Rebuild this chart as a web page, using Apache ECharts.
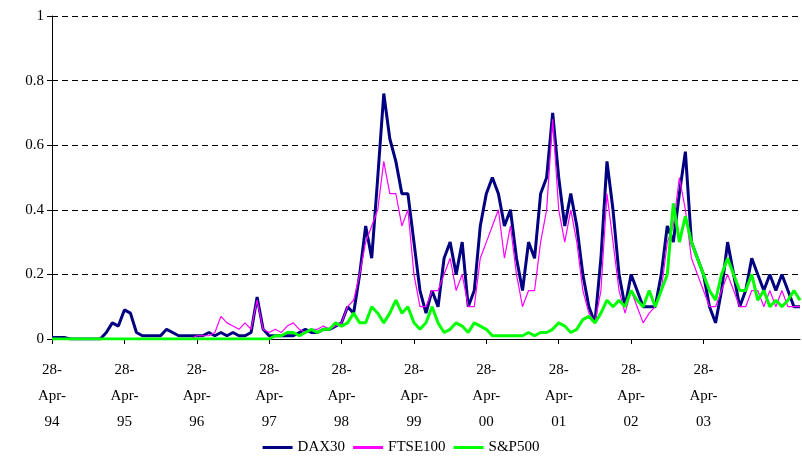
<!DOCTYPE html>
<html><head><meta charset="utf-8">
<script src="https://cdn.jsdelivr.net/npm/echarts@6/dist/echarts.min.js"></script>
<style>html,body{margin:0;background:#fff}#c{width:802px;height:457px}</style>
</head><body><div id="c"></div>
<script>
const yearLabels=['94','95','96','97','98','99','00','01','02','03'];
const dax=[0.005,0.005,0.005,0,0,0,0,0,0,0.02,0.05,0.04,0.09,0.08,0.02,0.01,0.01,0.01,0.01,0.03,0.02,0.01,0.01,0.01,
0.01,0.01,0.02,0.01,0.02,0.01,0.02,0.01,0.01,0.02,0.13,0.03,0.01,0.01,0.01,0.01,0.01,0.02,0.03,0.02,0.02,0.03,0.03,0.04,
0.05,0.1,0.08,0.2,0.35,0.25,0.5,0.76,0.62,0.55,0.45,0.45,0.3,0.15,0.08,0.15,0.1,0.25,0.3,0.2,0.3,0.1,0.15,0.35,
0.45,0.5,0.45,0.35,0.4,0.25,0.15,0.3,0.25,0.45,0.5,0.7,0.5,0.35,0.45,0.35,0.2,0.1,0.05,0.25,0.55,0.4,0.2,0.1,
0.2,0.15,0.1,0.1,0.1,0.2,0.35,0.3,0.45,0.58,0.3,0.25,0.2,0.1,0.05,0.15,0.3,0.2,0.1,0.15,0.25,0.2,0.15,0.2,0.15,0.2,0.15,0.1,0.1];
const ftse=[0,0,0,0,0,0,0,0,0,0,0,0,0,0,0,0,0,0,0,0,0,0,0,0,
0.01,0.01,0.01,0.02,0.07,0.05,0.04,0.03,0.05,0.03,0.12,0.03,0.02,0.03,0.02,0.04,0.05,0.03,0.02,0.03,0.03,0.04,0.03,0.04,
0.05,0.1,0.12,0.2,0.3,0.35,0.4,0.55,0.45,0.45,0.35,0.4,0.2,0.1,0.1,0.15,0.15,0.2,0.25,0.15,0.2,0.1,0.1,0.25,
0.3,0.35,0.4,0.25,0.35,0.2,0.1,0.15,0.15,0.3,0.4,0.68,0.4,0.3,0.4,0.3,0.15,0.08,0.05,0.15,0.45,0.3,0.15,0.08,
0.15,0.1,0.05,0.08,0.1,0.15,0.3,0.35,0.5,0.4,0.25,0.2,0.15,0.1,0.1,0.15,0.2,0.15,0.1,0.1,0.15,0.15,0.1,0.15,0.1,0.15,0.1,0.1,0.1];
const sp=[0,0,0,0,0,0,0,0,0,0,0,0,0,0,0,0,0,0,0,0,0,0,0,0,
0,0,0,0,0,0,0,0,0,0,0,0,0,0.01,0.01,0.02,0.02,0.01,0.02,0.03,0.02,0.03,0.03,0.05,
0.04,0.05,0.08,0.05,0.05,0.1,0.08,0.05,0.08,0.12,0.08,0.1,0.05,0.03,0.05,0.1,0.05,0.02,0.03,0.05,0.04,0.02,0.05,0.04,
0.03,0.01,0.01,0.01,0.01,0.01,0.01,0.02,0.01,0.02,0.02,0.03,0.05,0.04,0.02,0.03,0.06,0.07,0.05,0.08,0.12,0.1,0.12,0.1,
0.15,0.12,0.1,0.15,0.1,0.15,0.2,0.42,0.3,0.38,0.3,0.25,0.2,0.15,0.12,0.2,0.25,0.2,0.15,0.15,0.2,0.12,0.15,0.1,0.12,0.1,0.12,0.15,0.12];
const shown=i=>i%12===0&&i/12<yearLabels.length;
const cats=dax.map((_,i)=>shown(i)?'28-\nApr-\n'+yearLabels[i/12]:'');
const font='Liberation Serif';
const ch=echarts.init(document.getElementById('c'));
ch.setOption({
 animation:false,
 textStyle:{fontFamily:font},
 grid:{left:52,right:2,top:16,bottom:118},
 legend:{top:435,itemWidth:30,itemHeight:3,icon:'rect',textStyle:{fontFamily:font,fontSize:15,color:'#000'},
  data:['DAX30','FTSE100','S&P500']},
 xAxis:{type:'category',data:cats,boundaryGap:false,
  axisLine:{lineStyle:{color:'#000'}},
  axisTick:{interval:shown,lineStyle:{color:'#000'},length:5},
  axisLabel:{interval:shown,color:'#000',fontSize:15,lineHeight:26,margin:18,fontFamily:font}},
 yAxis:{type:'value',min:0,max:1,interval:0.2,
  axisLine:{show:true,lineStyle:{color:'#000'}},axisTick:{show:true,lineStyle:{color:'#000'}},
  axisLabel:{color:'#000',fontSize:15,fontFamily:font,formatter:v=>v===0?'0':v===1?'1':String(v)},
  splitLine:{lineStyle:{color:'#000',type:[6,4]}}},
 series:[
  {name:'DAX30',type:'line',data:dax,showSymbol:false,lineStyle:{color:'#000080',width:3},itemStyle:{color:'#000080'}},
  {name:'FTSE100',type:'line',data:ftse,showSymbol:false,lineStyle:{color:'#ff00ff',width:1.2},itemStyle:{color:'#ff00ff'}},
  {name:'S&P500',type:'line',data:sp,showSymbol:false,lineStyle:{color:'#00ff00',width:3},itemStyle:{color:'#00ff00'}}
 ]
});
</script></body></html>
